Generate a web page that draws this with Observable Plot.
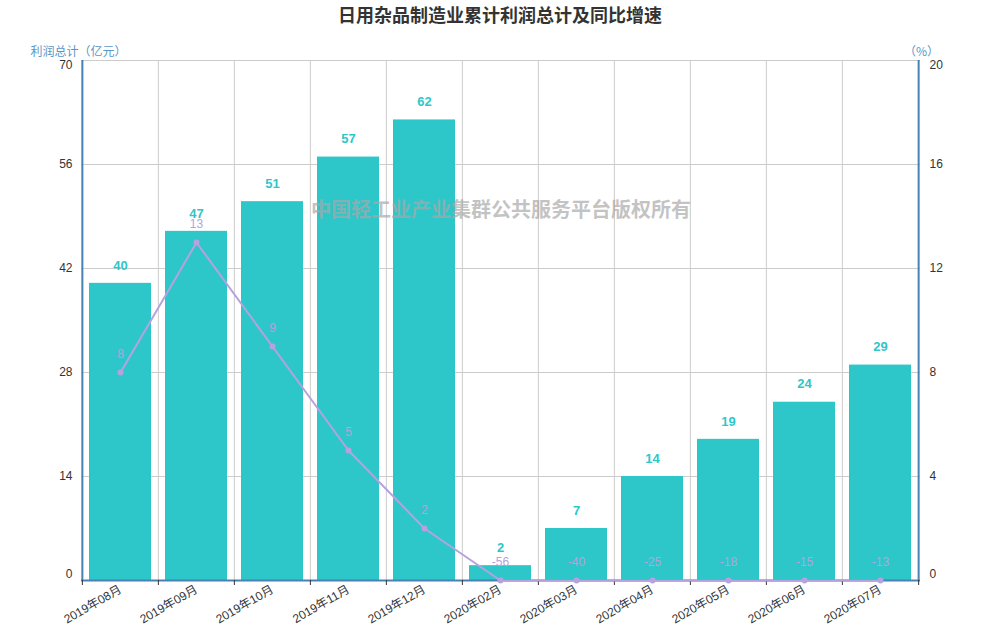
<!DOCTYPE html>
<html>
<head>
<meta charset="utf-8">
<script src="https://cdn.jsdelivr.net/npm/d3@7"></script>
<script src="https://cdn.jsdelivr.net/npm/@observablehq/plot@0.6"></script>
<style>
  body { margin: 0; background: #fff; font-family: "Liberation Sans", "Noto Sans CJK SC", sans-serif; }
  #title { height: 30px; line-height: 28px; text-align: center; font-size: 18px; font-weight: bold; color: #333; font-family: "Noto Sans CJK SC", sans-serif; }
</style>
</head>
<body>
<div id="title">日用杂品制造业累计利润总计及同比增速</div>
<div id="chart"></div>
<script>
const months = ["2019年08月","2019年09月","2019年10月","2019年11月","2019年12月","2020年02月","2020年03月","2020年04月","2020年05月","2020年06月","2020年07月"];
const profit = [40, 47, 51, 57, 62, 2, 7, 14, 19, 24, 29];
const growth = [8, 13, 9, 5, 2, -56, -40, -25, -18, -15, -13];
const leftTicks = [0, 14, 28, 42, 56, 70];
const rightTicks = [0, 4, 8, 12, 16, 20];
const leftMax = 70, rightMax = 20;
const watermark = "中国轻工业产业集群公共服务平台版权所有";

const W = 1000, H = 610, mL = 81, mR = 80, mT = 30, mB = 60;
const step = (W - mL - mR) / months.length;
const k = leftMax / rightMax;

const data = months.map((m, i) => ({
  month: m, profit: profit[i], growth: growth[i],
  gy: Math.max(growth[i], 0) * k
}));

const axisBlue = "#4682b4";
const labelBlue = "#5a96c8";
const leftMid = leftTicks.slice(1, -1);
const rightMid = rightTicks.slice(1, -1).map(v => v * k);
const rFmt = d => String(Math.round(d / k));

const chart = Plot.plot({
  width: W, height: H,
  marginTop: mT, marginBottom: mB, marginLeft: mL, marginRight: mR,
  x: { domain: months, paddingInner: 0.18, paddingOuter: 0.09, label: null },
  y: { domain: [0, leftMax], label: null },
  style: { fontFamily: '"Liberation Sans", "Noto Sans CJK SC", sans-serif', fontSize: "12px", color: "#333", background: "#fff" },
  marks: [
    Plot.ruleY(leftTicks, { stroke: "#ccc" }),
    Plot.ruleX(months, { stroke: "#ccc", dx: -step / 2 }),
    Plot.barY(data, { x: "month", y: "profit", fill: "#2ec7c9" }),
    Plot.text(data, { x: "month", y: "profit", text: d => String(d.profit), dy: -18, fill: "#2ec7c9", fontWeight: "bold", fontSize: 13 }),
    Plot.text([watermark], { frameAnchor: "top", dy: 142, fill: "#a8a8a8", fillOpacity: 0.7, fontWeight: "bold", fontSize: 20, fontFamily: '"Noto Sans CJK SC", sans-serif' }),
    Plot.axisY(leftMid, { anchor: "left", tickSize: 0, tickPadding: 9, label: null, fill: "#333" }),
    Plot.axisY([leftTicks[leftTicks.length - 1]], { anchor: "left", tickSize: 0, tickPadding: 9, label: null, fill: "#333", dy: 5 }),
    Plot.axisY([leftTicks[0]], { anchor: "left", tickSize: 0, tickPadding: 9, label: null, fill: "#333", dy: -6 }),
    Plot.axisY(rightMid, { anchor: "right", tickSize: 0, tickPadding: 9, tickFormat: rFmt, label: null, fill: "#333" }),
    Plot.axisY([rightTicks[rightTicks.length - 1] * k], { anchor: "right", tickSize: 0, tickPadding: 9, tickFormat: rFmt, label: null, fill: "#333", dy: 5 }),
    Plot.axisY([rightTicks[0] * k], { anchor: "right", tickSize: 0, tickPadding: 9, tickFormat: rFmt, label: null, fill: "#333", dy: -6 }),
    Plot.axisX({ tickRotate: -30, tickSize: 0, tickPadding: 8, label: null, fill: "#333" }),
    Plot.ruleY([0], { stroke: axisBlue, strokeWidth: 2 }),
    Plot.ruleX([months[0]], { stroke: axisBlue, strokeWidth: 2, dx: -step / 2 }),
    Plot.ruleX([months[months.length - 1]], { stroke: axisBlue, strokeWidth: 2, dx: step / 2 }),
    Plot.ruleX(months, { y1: 0, y2: 0, insetBottom: -5, stroke: "#333", dx: -step / 2 }),
    Plot.ruleX([months[months.length - 1]], { y1: 0, y2: 0, insetBottom: -5, stroke: "#333", dx: step / 2 }),
    Plot.line(data, { x: "month", y: "gy", stroke: "#b6a2de", strokeWidth: 2 }),
    Plot.dot(data, { x: "month", y: "gy", r: 3, fill: "#b6a2de" }),
    Plot.text(data, { x: "month", y: "gy", text: d => String(d.growth), dy: -18, fill: "#b6a2de", fontSize: 12 }),
    Plot.text(["利润总计（亿元）"], { frameAnchor: "top-left", textAnchor: "middle", dx: -3, dy: -13, fill: labelBlue, fontSize: 12, fontFamily: '"Noto Sans CJK SC", sans-serif' }),
    Plot.text(["（%）"], { frameAnchor: "top-right", textAnchor: "middle", dx: 1, dy: -13, fill: labelBlue, fontSize: 12, fontFamily: '"Noto Sans CJK SC", sans-serif' })
  ]
});
document.getElementById("chart").appendChild(chart);
</script>
</body>
</html>
